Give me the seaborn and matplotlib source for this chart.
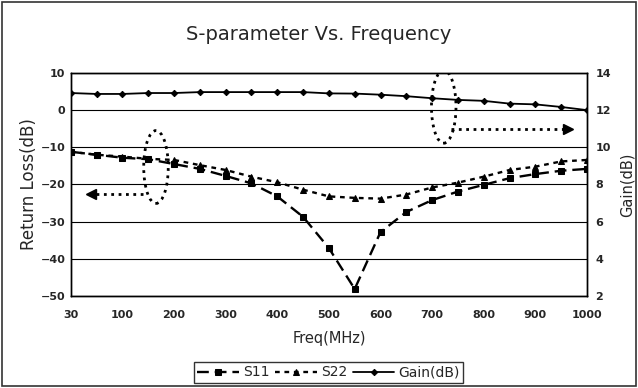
import numpy as np
import pandas as pd
import seaborn as sns
import matplotlib.pyplot as plt
from matplotlib.patches import Ellipse

freq = [30, 50, 100, 150, 200, 250, 300, 350, 400, 450, 500,
        550, 600, 650, 700, 750, 800, 850, 900, 950, 1000]
s11 = [-11.2, -12.0, -12.8, -13.2, -14.5, -15.8, -17.7, -19.7, -23.2, -28.7, -37.1,
       -48.1, -32.8, -27.4, -24.2, -21.9, -20.1, -18.3, -17.2, -16.3, -15.8]
s22 = [-11.2, -12.0, -12.5, -13.1, -13.4, -14.8, -16.1, -17.9, -19.4, -21.4, -23.2,
       -23.6, -23.8, -22.7, -20.8, -19.5, -17.9, -16.1, -15.2, -13.8, -13.4]
gain = [12.92, 12.87, 12.87, 12.92, 12.92, 12.97, 12.97, 12.97, 12.97, 12.97, 12.9,
        12.89, 12.83, 12.75, 12.64, 12.55, 12.5, 12.35, 12.31, 12.17, 12.0]
xlabels = ['30', '100', '200', '300', '400', '500', '600', '700', '800', '900', '1000']

df = pd.DataFrame({'freq': freq, 'S11': s11, 'S22': s22, 'Gain': gain})
df['pos'] = np.arange(len(df))   # category axis, evenly spaced

sns.set_style('white')
plt.rcParams['font.family'] = ['DejaVu Sans']

fig = plt.figure(figsize=(6.38, 3.88), dpi=100)
ax = fig.add_axes([0.111, 0.237, 0.809, 0.575])
ax2 = ax.twinx()

sns.lineplot(data=df, x='pos', y='S11', ax=ax, color='black', lw=1.7,
             linestyle=(0, (5, 2.5)), marker='s', markersize=4, mec='black', label='S11')
sns.lineplot(data=df, x='pos', y='S22', ax=ax, color='black', lw=1.7,
             linestyle=(0, (2, 2)), marker='^', markersize=4.5, mec='black', label='S22')
sns.lineplot(data=df, x='pos', y='Gain', ax=ax2, color='black', lw=1.3,
             marker='D', markersize=3.2, mec='black', label='Gain(dB)')

ax.set_xlim(0, len(df) - 1)
ax.set_ylim(-50, 10)
ax.set_yticks(range(-50, 11, 10))
ax2.set_ylim(2, 14)
ax2.set_yticks(range(2, 15, 2))

ax.set_xticks(df['pos'][::2])
ax.set_xticklabels(xlabels)
ax.set_xticks(df['pos'], minor=True)
ax.tick_params(axis='x', which='both', direction='in', length=4, width=0.8, pad=10)
ax.tick_params(axis='y', length=0, pad=4)
ax2.tick_params(axis='y', length=0, pad=6)

for a in (ax, ax2):
    for lab in a.get_xticklabels() + a.get_yticklabels():
        lab.set_fontsize(8)
        lab.set_fontweight('bold')
    for sp in a.spines.values():
        sp.set_color('black')
        sp.set_linewidth(1)

ax.grid(axis='y', color='black', lw=0.8)
ax.grid(axis='x', visible=False)
ax2.grid(False)

ax.set_xlabel('Freq(MHz)', fontsize=10.5, labelpad=8)
ax.set_ylabel('Return Loss(dB)', fontsize=12, labelpad=2)
ax2.set_ylabel('Gain(dB)', fontsize=10.5, labelpad=6)
fig.suptitle('S-parameter Vs. Frequency', fontsize=14, y=0.935)

# dotted ellipses and arrows pointing at the axis each group uses
ax.add_patch(Ellipse((3.3, -15.3), 0.95, 19.6, fill=False, ec='black', lw=2, ls=':'))
ax.plot([2.8, 0.95], [-22.5, -22.5], color='black', lw=2, ls=':')
ax.plot([0.8], [-22.5], marker='<', color='black', ms=7)
ax.add_patch(Ellipse((14.45, 0.9), 0.95, 19.6, fill=False, ec='black', lw=2, ls=':'))
ax.plot([14.75, 19.1], [-5.0, -5.0], color='black', lw=2, ls=':')
ax.plot([19.25], [-5.0], marker='>', color='black', ms=7)

h1, l1 = ax.get_legend_handles_labels()
h2, l2 = ax2.get_legend_handles_labels()
ax.get_legend().remove()
ax2.get_legend().remove()
leg = fig.legend(h1 + h2, l1 + l2, loc='center', bbox_to_anchor=(0.515, 0.04), ncol=3,
                 fontsize=10, frameon=True, fancybox=False, edgecolor='black',
                 handlelength=3.0, columnspacing=0.4, handletextpad=0.3,
                 borderpad=0.25, borderaxespad=0)
leg.get_frame().set_linewidth(1)

fig.patches.append(plt.Rectangle((0.003, 0.004), 0.994, 0.992, transform=fig.transFigure,
                                 fill=False, ec='#333333', lw=1.2))

fig.savefig('out.png', dpi=100)
